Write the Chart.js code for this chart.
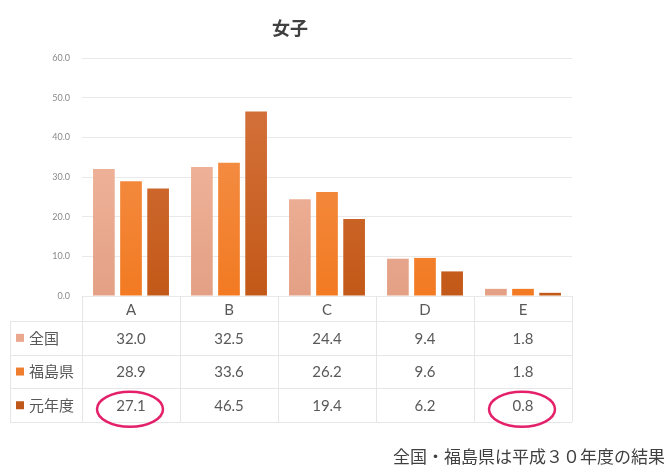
<!DOCTYPE html>
<html>
<head>
<meta charset="utf-8">
<script src="https://cdn.jsdelivr.net/npm/chart.js@4"></script>
<style>
  html, body { margin: 0; padding: 0; background: #fff; }
  #chart { display: block; }
</style>
</head>
<body>
<canvas id="chart" width="664" height="468"></canvas>
<script>
const categories = ['A', 'B', 'C', 'D', 'E'];
const seriesNames = ['全国', '福島県', '元年度'];
const zenkoku = [32.0, 32.5, 24.4, 9.4, 1.8];
const fukushima = [28.9, 33.6, 26.2, 9.6, 1.8];
const gannendo = [27.1, 46.5, 19.4, 6.2, 0.8];
const yTicks = [0, 10, 20, 30, 40, 50, 60];
// cells circled in the table: [series index, category index]
const circled = [[2, 0], [2, 4]];

const FONT = 'Lato, "Noto Sans CJK JP", sans-serif';
const JP = '"Noto Sans CJK JP", sans-serif';
const TEXT = '#595959';
const LINE = '#e6e6e6';

// top / bottom shades for each series, plus the flat swatch colour
const shades = [
  { top: '#f7c0a8', bottom: '#e3a085', swatch: '#eaa98e' },
  { top: '#f49858', bottom: '#f27a22', swatch: '#ef7f2e' },
  { top: '#d77642', bottom: '#c35918', swatch: '#c0581c' }
];

function gradient(s) {
  return (c) => {
    const area = c.chart.chartArea;
    if (!area) return s.bottom;
    const g = c.chart.ctx.createLinearGradient(0, area.top, 0, area.bottom);
    g.addColorStop(0, s.top);
    g.addColorStop(1, s.bottom);
    return g;
  };
}

const seriesValues = [zenkoku, fukushima, gannendo];

const tableRows = { top: 321, height: 33.7, left: 10 };

const titleAndTable = {
  id: 'titleAndTable',
  afterDraw(chart) {
    const { ctx, chartArea: a } = chart;
    const colW = (a.right - a.left) / categories.length;
    const bottom = tableRows.top + tableRows.height * seriesNames.length;
    ctx.save();

    // title
    ctx.fillStyle = '#404040';
    ctx.font = 'bold 18px ' + JP;
    ctx.textAlign = 'center';
    ctx.textBaseline = 'middle';
    ctx.fillText('女子', 290, 28);

    // grid of the data table
    ctx.strokeStyle = LINE;
    ctx.lineWidth = 1;
    ctx.beginPath();
    for (let i = 0; i <= categories.length; i++) {
      const x = Math.round(a.left + colW * i) + 0.5;
      ctx.moveTo(x, a.bottom);
      ctx.lineTo(x, bottom);
    }
    ctx.moveTo(tableRows.left + 0.5, tableRows.top);
    ctx.lineTo(tableRows.left + 0.5, bottom);
    for (let r = 0; r <= seriesNames.length; r++) {
      const y = Math.round(tableRows.top + tableRows.height * r) + 0.5;
      ctx.moveTo(tableRows.left, y);
      ctx.lineTo(a.right, y);
    }
    ctx.stroke();

    // rows: swatch, name, values
    seriesNames.forEach((name, r) => {
      const cy = tableRows.top + tableRows.height * (r + 0.5);
      ctx.fillStyle = shades[r].swatch;
      ctx.fillRect(16, cy - 4, 8, 8);
      ctx.fillStyle = TEXT;
      ctx.font = '15px ' + JP;
      ctx.textAlign = 'left';
      ctx.fillText(name, 29, cy);
      ctx.font = '15px ' + FONT;
      ctx.textAlign = 'center';
      seriesValues[r].forEach((v, i) => {
        ctx.fillText(v.toFixed(1), a.left + colW * (i + 0.5), cy + 1);
      });
    });

    // highlight circles
    ctx.strokeStyle = '#e4206a';
    ctx.lineWidth = 2.5;
    circled.forEach(([r, i]) => {
      const cx = a.left + colW * (i + 0.5) - 1;
      const cy = tableRows.top + tableRows.height * (r + 0.5) + 4;
      ctx.beginPath();
      ctx.ellipse(cx, cy, 33, 17.5, 0, 0, Math.PI * 2);
      ctx.stroke();
    });

    // footnote
    ctx.fillStyle = '#404040';
    ctx.font = '17px ' + JP;
    ctx.textAlign = 'left';
    ctx.fillText('全国・福島県は平成３０年度の結果', 393, 457);
    ctx.restore();
  }
};

new Chart(document.getElementById('chart'), {
  type: 'bar',
  data: {
    labels: categories,
    datasets: seriesNames.map((name, i) => ({
      label: name,
      data: seriesValues[i],
      backgroundColor: gradient(shades[i]),
      borderWidth: 0,
      categoryPercentage: 0.83,
      barPercentage: 0.8
    }))
  },
  options: {
    responsive: false,
    animation: false,
    layout: { padding: { left: 0, right: 92, top: 58, bottom: 148 } },
    plugins: {
      legend: { display: false },
      title: { display: false },
      tooltip: { enabled: false }
    },
    scales: {
      x: {
        grid: { display: false, drawTicks: false },
        border: { display: false },
        ticks: { color: TEXT, font: { family: FONT, size: 15 }, padding: 5 },
        afterFit: (s) => { s.height = 24; }
      },
      y: {
        min: 0,
        max: 60,
        afterBuildTicks: (s) => { s.ticks = yTicks.map(v => ({ value: v })); },
        grid: { color: '#e9e9e9', drawTicks: false },
        border: { display: false },
        ticks: {
          color: '#8a8a8a',
          font: { family: FONT, size: 9 },
          padding: 12,
          callback: (v) => Number(v).toFixed(1)
        },
        afterFit: (s) => { s.width = 82; }
      }
    }
  },
  plugins: [titleAndTable]
});
</script>
</body>
</html>
